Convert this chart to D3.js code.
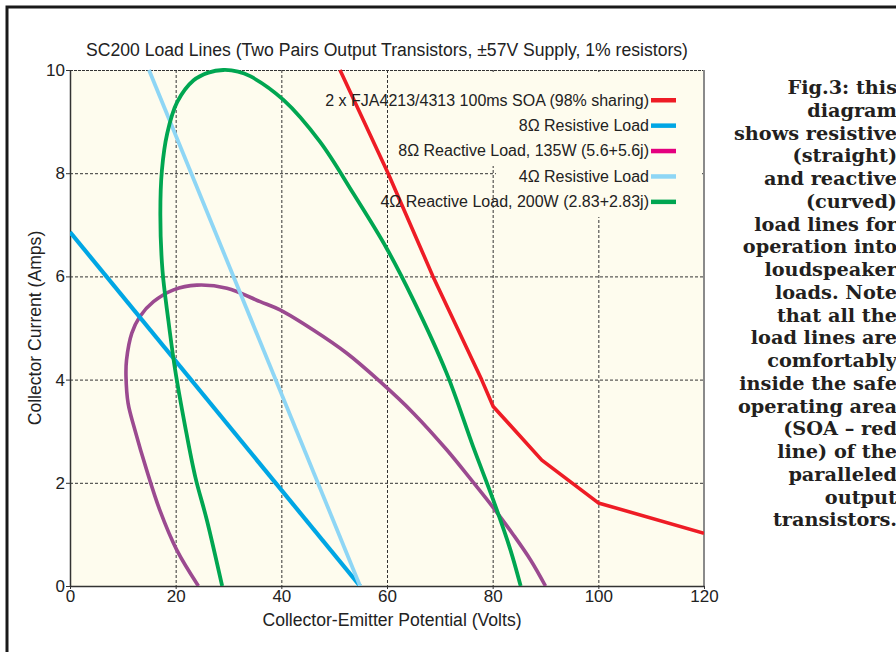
<!DOCTYPE html>
<html>
<head>
<meta charset="utf-8">
<script src="https://cdn.jsdelivr.net/npm/d3@7"></script>
<style>
  body { margin: 0; background: #fff; }
  svg { display: block; }
</style>
</head>
<body>
<div class="canvas"></div>
<script>
// values (volts, amps)
const soaLine = [[51.1, 10], [60.2, 8], [68.7, 6], [77.9, 4], [80.1, 3.48], [89.3, 2.44], [100, 1.61], [120, 1.02]]
const res8 = [[0, 6.86], [54.9, 0]]
const res4 = [[14.95, 10], [54.9, 0]]
const react8 = [
  [24.3, 0], [20.2, 0.7], [17.0, 1.47], [14.5, 2.25], [12.3, 3.02], [11.0, 3.54], [10.6, 4.06],
  [10.7, 4.38], [11.7, 4.9], [13.2, 5.22], [15.8, 5.51], [19.6, 5.74], [24.0, 5.83], [29.7, 5.77],
  [36.0, 5.51], [39.75, 5.35], [46.05, 4.96], [52.4, 4.51], [58.7, 3.96], [65.0, 3.35], [71.3, 2.64],
  [76.0, 2.05], [80.1, 1.52], [84.0, 0.98], [87.2, 0.5], [90.0, 0],
]
const react4 = [
  [28.8, 0], [25.9, 1.28], [23.7, 2.12], [21.8, 3.09], [19.9, 4.19], [18.6, 5.16], [17.5, 6.12],
  [17.1, 7.2], [17.4, 8.06], [18.4, 8.77], [20.3, 9.38], [23.4, 9.8], [26.2, 9.95], [29.0, 10.0],
  [31.8, 9.97], [34.1, 9.88], [40.4, 9.42], [47.3, 8.61], [53.6, 7.61], [59.9, 6.55], [65.0, 5.54],
  [71.3, 4.12], [76.3, 2.7], [80.1, 1.67], [83.3, 0.72], [85.3, 0],
]

const legendLabels = [
  '2 x FJA4213/4313 100ms SOA (98% sharing)',
  '8\u03A9 Resistive Load',
  '8\u03A9 Reactive Load, 135W (5.6+5.6j)',
  '4\u03A9 Resistive Load',
  '4\u03A9 Reactive Load, 200W (2.83+2.83j)',
]
const legendColors = ['#ee1c25', '#00a6e4', '#e4007f', '#8ed6f5', '#00a651']

const xTicks = [0, 20, 40, 60, 80, 100, 120]
const yTicks = [0, 2, 4, 6, 8, 10]

const caption = [
  'Fig.3: this', 'diagram', 'shows resistive', '(straight)', 'and reactive', '(curved)',
  'load lines for', 'operation into', 'loudspeaker', 'loads. Note', 'that all the',
  'load lines are', 'comfortably', 'inside the safe', 'operating area', '(SOA \u2013 red',
  'line) of the', 'paralleled', 'output', 'transistors.',
]

const plot = { left: 70, right: 704, top: 70, bottom: 586 }
const font = '"Liberation Sans", Arial, sans-serif'

const svg = d3
  .select('.canvas')
  .append('svg')
  .attr('width', 896)
  .attr('height', 652)

// outer frame (only top and left edges show)
svg
  .append('path')
  .attr('d', 'M7,660 L7,7 L900,7')
  .attr('fill', 'none')
  .attr('stroke', '#1a1a1a')
  .attr('stroke-width', 3)

const x = d3.scaleLinear().domain([0, 120]).range([plot.left, plot.right])
const y = d3.scaleLinear().domain([0, 10]).range([plot.bottom, plot.top])

svg
  .append('rect')
  .attr('x', plot.left)
  .attr('y', plot.top)
  .attr('width', plot.right - plot.left)
  .attr('height', plot.bottom - plot.top)
  .attr('fill', '#fefcee')

// dashed grid
const grid = svg.append('g').attr('stroke', '#333').attr('stroke-width', 1).attr('stroke-dasharray', '3,2')
grid
  .selectAll('.vx')
  .data(xTicks.slice(1, -1))
  .enter()
  .append('line')
  .attr('x1', (d) => x(d) + 0.5)
  .attr('x2', (d) => x(d) + 0.5)
  .attr('y1', plot.top)
  .attr('y2', plot.bottom)
grid
  .selectAll('.hy')
  .data(yTicks.slice(1, -1))
  .enter()
  .append('line')
  .attr('x1', plot.left)
  .attr('x2', plot.right)
  .attr('y1', (d) => y(d) + 0.5)
  .attr('y2', (d) => y(d) + 0.5)

// top edge dashed too
svg
  .append('line')
  .attr('x1', plot.left)
  .attr('x2', plot.right)
  .attr('y1', plot.top + 0.5)
  .attr('y2', plot.top + 0.5)
  .attr('stroke', '#333')
  .attr('stroke-dasharray', '3,1')

// legend background hides grid behind it
svg.append('rect').attr('x', 490).attr('y', 72).attr('width', 212).attr('height', 94).attr('fill', '#fefcee')
svg.append('rect').attr('x', 496).attr('y', 160).attr('width', 206).attr('height', 57).attr('fill', '#fefcee')

// right border
svg
  .append('line')
  .attr('x1', plot.right)
  .attr('x2', plot.right)
  .attr('y1', plot.top)
  .attr('y2', plot.bottom)
  .attr('stroke', '#8a8a8a')
  .attr('stroke-width', 2)

// axes
const xAxis = svg
  .append('g')
  .attr('transform', `translate(0, ${plot.bottom})`)
  .call(d3.axisBottom(x).tickValues(xTicks).tickSize(3).tickSizeOuter(0))
const yAxis = svg
  .append('g')
  .attr('transform', `translate(${plot.left}, 0)`)
  .call(d3.axisLeft(y).tickValues(yTicks).tickSize(4).tickSizeOuter(0))

;[xAxis, yAxis].forEach((a) => {
  a.select('.domain').attr('stroke', '#333').attr('stroke-width', 1.5)
  a.selectAll('line').attr('stroke', '#333')
  a.selectAll('text').attr('font-family', font).attr('font-size', 17).attr('fill', '#222')
})
xAxis.selectAll('text').attr('dy', '0.9em').attr('y', 1)
yAxis.selectAll('text').attr('x', -5)

// clip curves to plot area
svg
  .append('clipPath')
  .attr('id', 'clip')
  .append('rect')
  .attr('x', plot.left)
  .attr('y', plot.top - 3)
  .attr('width', plot.right - plot.left)
  .attr('height', plot.bottom - plot.top + 3)

const straight = d3
  .line()
  .x((d) => x(d[0]))
  .y((d) => y(d[1]))
const smooth = d3
  .line()
  .x((d) => x(d[0]))
  .y((d) => y(d[1]))
  .curve(d3.curveCatmullRom.alpha(0.5))

const series = [
  { pts: react8, gen: smooth, color: '#9b4a90', w: 3.6 },
  { pts: res8, gen: straight, color: '#00a6e4', w: 4.2 },
  { pts: res4, gen: straight, color: '#8ed6f5', w: 3.8 },
  { pts: react4, gen: smooth, color: '#00a651', w: 3.8 },
  { pts: soaLine, gen: straight, color: '#ee1c25', w: 3.6 },
]

const lines = svg.append('g').attr('clip-path', 'url(#clip)')
lines
  .selectAll('path')
  .data(series)
  .enter()
  .append('path')
  .attr('d', (d) => d.gen(d.pts))
  .attr('fill', 'none')
  .attr('stroke', (d) => d.color)
  .attr('stroke-width', (d) => d.w)
  .attr('stroke-linejoin', 'round')

// legend
const legend = svg.append('g')
const rows = legend
  .selectAll('g')
  .data(legendLabels)
  .enter()
  .append('g')
  .attr('transform', (d, i) => `translate(0, ${100 + i * 25.4})`)
rows
  .append('text')
  .attr('x', 649)
  .attr('y', 5.5)
  .attr('text-anchor', 'end')
  .attr('font-family', font)
  .attr('font-size', 16)
  .attr('fill', '#222')
  .text((d) => d)
rows
  .append('rect')
  .attr('x', 651)
  .attr('y', -2)
  .attr('width', 25)
  .attr('height', 4.5)
  .attr('fill', (d, i) => legendColors[i])

// titles
svg
  .append('text')
  .attr('x', 387)
  .attr('y', 56)
  .attr('text-anchor', 'middle')
  .attr('font-family', font)
  .attr('font-size', 17.6)
  .attr('fill', '#222')
  .text('SC200 Load Lines (Two Pairs Output Transistors, \u00B157V Supply, 1% resistors)')

svg
  .append('text')
  .attr('x', 392)
  .attr('y', 626)
  .attr('text-anchor', 'middle')
  .attr('font-family', font)
  .attr('font-size', 17.6)
  .attr('fill', '#222')
  .text('Collector-Emitter Potential (Volts)')

svg
  .append('text')
  .attr('transform', 'translate(41, 328) rotate(-90)')
  .attr('text-anchor', 'middle')
  .attr('font-family', font)
  .attr('font-size', 17.6)
  .attr('fill', '#222')
  .text('Collector Current (Amps)')

// side caption
svg
  .append('g')
  .selectAll('text')
  .data(caption)
  .enter()
  .append('text')
  .attr('x', 897)
  .attr('y', (d, i) => 94 + i * 22.75)
  .attr('text-anchor', 'end')
  .attr('font-family', '"DejaVu Serif", serif')
  .attr('font-weight', 'bold')
  .attr('font-size', 19.3)
  .attr('fill', '#231f20')
  .text((d) => d)
</script>
</body>
</html>
